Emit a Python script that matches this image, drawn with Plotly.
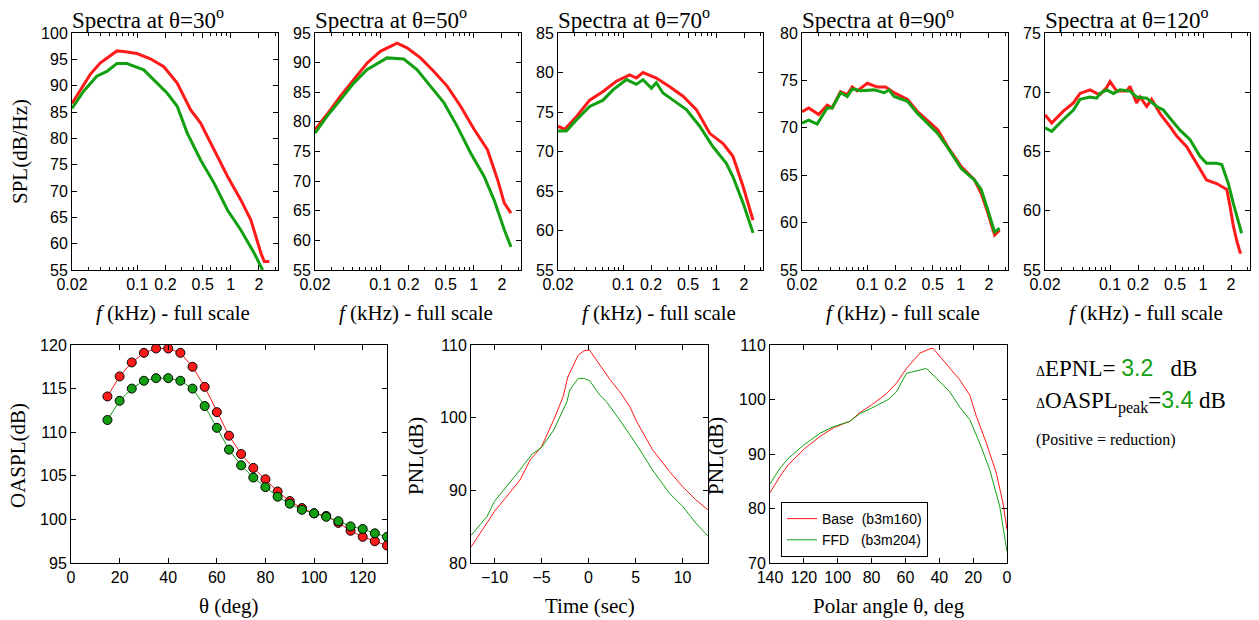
import plotly.graph_objects as go

W, H = 1259, 620
RED = "#ff1a1a"
GREEN = "#12a012"
SERIF = "Liberation Serif, Times New Roman, serif"
SANS = "Liberation Sans, Arial, sans-serif"

# ---------------- Spectra data (f in kHz, SPL in dB/Hz) ----------------
f30_base = [0.02, 0.0312, 0.040, 0.0604, 0.0713, 0.099, 0.138, 0.192, 0.267, 0.372, 0.475, 0.662, 0.921, 1.28, 1.64, 2.10, 2.28, 2.58]
s30_base = [86.6, 92.1, 94.3, 96.6, 96.5, 96.1, 95.1, 93.6, 90.5, 85.4, 82.9, 77.8, 72.8, 68.3, 64.5, 58.2, 56.6, 56.6]
f30_ffd = [0.02, 0.0265, 0.0368, 0.0472, 0.0604, 0.0774, 0.117, 0.150, 0.208, 0.267, 0.342, 0.475, 0.662, 0.921, 1.28, 1.78, 2.19]
s30_ffd = [85.7, 88.9, 91.8, 92.7, 94.2, 94.2, 93.0, 91.1, 88.6, 86.1, 81.0, 75.9, 71.5, 66.4, 62.6, 58.2, 55.0]

f50_base = [0.02, 0.0267, 0.0372, 0.0517, 0.0719, 0.100, 0.151, 0.193, 0.269, 0.374, 0.521, 0.725, 1.01, 1.40, 1.80, 2.12, 2.50]
s50_base = [78.7, 81.2, 84.3, 87.1, 89.9, 91.9, 93.3, 92.5, 90.8, 88.5, 86.0, 82.6, 78.7, 75.3, 70.2, 66.3, 64.6]
f50_ffd = [0.02, 0.0267, 0.0372, 0.0517, 0.0719, 0.100, 0.118, 0.178, 0.248, 0.345, 0.480, 0.667, 0.928, 1.29, 1.65, 2.12, 2.50]
s50_ffd = [78.1, 80.9, 83.7, 86.5, 88.8, 90.2, 90.8, 90.6, 88.8, 86.0, 83.2, 79.2, 74.7, 70.8, 66.8, 61.8, 58.9]

f70_base = [0.02, 0.0236, 0.0315, 0.0438, 0.0610, 0.0848, 0.118, 0.139, 0.164, 0.228, 0.318, 0.442, 0.615, 0.855, 1.19, 1.52, 1.95, 2.50]
s70_base = [73.2, 72.8, 74.4, 76.5, 77.6, 78.9, 79.7, 79.3, 80.0, 79.3, 78.2, 77.0, 75.3, 72.3, 71.0, 69.4, 65.6, 61.3]
f70_ffd = [0.02, 0.0246, 0.0315, 0.0438, 0.0610, 0.078, 0.109, 0.139, 0.164, 0.202, 0.228, 0.269, 0.345, 0.480, 0.667, 0.928, 1.29, 1.52, 1.95, 2.50]
s70_ffd = [72.6, 72.6, 74.0, 75.7, 76.5, 77.8, 79.1, 78.5, 79.1, 78.0, 78.7, 77.4, 76.5, 75.3, 73.2, 70.6, 68.5, 66.8, 63.5, 59.7]

f90_base = [0.02, 0.0236, 0.0302, 0.0372, 0.042, 0.0517, 0.061, 0.069, 0.078, 0.100, 0.128, 0.157, 0.193, 0.269, 0.345, 0.442, 0.566, 0.725, 1.01, 1.40, 1.65, 1.95, 2.30, 2.60]
s90_base = [71.7, 72.1, 71.4, 72.4, 72.1, 73.8, 73.5, 74.3, 73.9, 74.7, 74.3, 74.3, 73.7, 73.0, 71.7, 70.8, 69.8, 68.0, 65.9, 64.5, 63.1, 61.0, 58.7, 59.2]
f90_ffd = [0.02, 0.0236, 0.029, 0.0372, 0.042, 0.0517, 0.061, 0.069, 0.0848, 0.118, 0.151, 0.171, 0.193, 0.269, 0.345, 0.442, 0.566, 0.725, 1.01, 1.40, 1.65, 1.95, 2.30, 2.60]
s90_ffd = [70.5, 70.8, 70.4, 72.1, 72.1, 73.7, 73.3, 74.1, 73.9, 74.0, 73.7, 74.0, 73.3, 72.8, 71.5, 70.5, 69.4, 67.9, 65.7, 64.5, 63.5, 61.3, 59.0, 59.4]

f120_base = [0.02, 0.0236, 0.0315, 0.0404, 0.0476, 0.061, 0.0719, 0.078, 0.092, 0.100, 0.118, 0.151, 0.164, 0.193, 0.210, 0.248, 0.280, 0.345, 0.442, 0.521, 0.667, 0.855, 1.09, 1.40, 1.80, 1.95, 2.12, 2.30, 2.50, 2.60]
s120_base = [68.1, 67.4, 68.4, 69.1, 69.9, 70.2, 69.9, 69.8, 70.4, 70.9, 70.1, 70.1, 70.5, 69.1, 69.6, 68.8, 69.4, 68.2, 67.1, 66.3, 65.4, 64.0, 62.6, 62.3, 61.8, 60.4, 58.7, 57.5, 56.5, 56.5]
f120_ffd = [0.02, 0.0236, 0.0315, 0.0404, 0.0476, 0.061, 0.0719, 0.078, 0.092, 0.109, 0.128, 0.164, 0.193, 0.248, 0.318, 0.374, 0.442, 0.566, 0.725, 0.928, 1.09, 1.40, 1.59, 1.87, 2.12, 2.40, 2.60]
s120_ffd = [67.0, 66.7, 67.7, 68.5, 69.4, 69.6, 69.5, 69.9, 70.2, 69.9, 70.2, 70.1, 69.6, 69.5, 68.8, 68.5, 67.8, 66.8, 66.0, 64.6, 64.0, 64.0, 63.9, 62.3, 60.6, 59.2, 58.1]

spectra = [
    ("30", f30_base, s30_base, f30_ffd, s30_ffd, [55, 100]),
    ("50", f50_base, s50_base, f50_ffd, s50_ffd, [55, 95]),
    ("70", f70_base, s70_base, f70_ffd, s70_ffd, [55, 85]),
    ("90", f90_base, s90_base, f90_ffd, s90_ffd, [55, 80]),
    ("120", f120_base, s120_base, f120_ffd, s120_ffd, [55, 75]),
]
freq_ticks = [0.02, 0.1, 0.2, 0.5, 1, 2]
freq_ticktext = ["0.02", "0.1", "0.2", "0.5", "1", "2"]

# ---------------- OASPL directivity ----------------
theta_deg = [15, 20, 25, 30, 35, 40, 45, 50, 55, 60, 65, 70, 75, 80, 85, 90, 95, 100, 105, 110, 115, 120, 125, 130]
oaspl_base = [114.1, 116.4, 118.0, 119.1, 119.6, 119.6, 119.1, 117.5, 115.2, 112.3, 109.6, 107.5, 105.9, 104.6, 103.2, 102.1, 101.3, 100.7, 100.4, 99.6, 98.7, 98.0, 97.5, 97.0]
oaspl_ffd = [111.4, 113.6, 115.0, 115.9, 116.2, 116.2, 115.9, 115.0, 113.0, 110.5, 108.0, 106.2, 104.8, 103.7, 102.6, 101.8, 101.1, 100.7, 100.3, 99.8, 99.2, 98.9, 98.4, 98.0]

# ---------------- PNL vs time ----------------
t_base = [-12.5, -10, -7.3, -6.2, -5, -3.7, -2.7, -2.2, -1.1, -0.5, 0.1, 1.2, 2.3, 3.3, 4.4, 5.1, 6.8, 8.6, 10, 11.4, 12.7]
pnl_t_base = [82.2, 87.1, 91.4, 94.2, 96.0, 99.7, 102.9, 105.6, 108.6, 109.2, 109.3, 107.3, 105.2, 103.6, 101.5, 99.5, 95.6, 92.6, 90.5, 88.7, 87.3]
t_ffd = [-12.5, -10.8, -10, -8.7, -7.3, -6, -5, -3.7, -3, -2.3, -2, -1.1, -0.5, 0.1, 1.2, 1.9, 3.3, 5.1, 6.8, 8.6, 10, 11.4, 12.7]
pnl_t_ffd = [83.8, 86.4, 88.5, 90.5, 92.8, 95.0, 95.9, 98.3, 100.2, 102.2, 103.8, 105.4, 105.4, 105.1, 103.1, 102.2, 99.7, 96.3, 92.8, 89.6, 87.8, 85.5, 83.7]

# ---------------- PNL vs polar angle ----------------
ang_base = [140, 134.1, 129.2, 120.3, 110.5, 102.6, 92.8, 86.9, 80, 71.2, 65.3, 59.4, 51.5, 45.6, 43.7, 35.8, 27.9, 22, 18.1, 12.2, 6.3, 2.4, 0]
pnl_a_base = [82.9, 85.9, 88.0, 90.8, 93.2, 94.8, 96.0, 97.6, 99.0, 101.1, 103.0, 105.7, 108.5, 109.3, 109.4, 106.6, 103.6, 100.8, 96.9, 92.0, 86.5, 81.0, 76.1]
ang_ffd = [140, 134.1, 129.2, 120.3, 110.5, 102.6, 92.8, 86.9, 80, 70.2, 65.3, 59.4, 55.5, 47.6, 41.7, 33.8, 27.9, 22, 16.1, 10.2, 4.3, 0]
pnl_a_ffd = [84.5, 87.4, 89.2, 91.6, 93.8, 95.0, 96.0, 97.4, 98.4, 100.0, 101.4, 104.8, 105.1, 105.7, 103.9, 101.4, 98.6, 96.3, 92.0, 87.1, 80.4, 72.1]

legend_names = ["Base\u00a0\u00a0(b3m160)", "FFD\u00a0\u00a0\u00a0(b3m204)"]

# ---------------- Layout geometry (pixels) ----------------
top_x = [(72, 278), (315, 521), (558, 763), (802, 1008), (1045, 1250)]
top_y = (33, 270)
bot_x = [(71, 387), (471, 708), (770, 1007)]
bot_y = (345, 563)


def px(x):
    return x / W


def py(y):
    return 1 - y / H


fig = go.Figure()
layout = dict(
    width=W, height=H, margin=dict(l=0, r=0, t=0, b=0),
    paper_bgcolor="white", plot_bgcolor="white",
    showlegend=True,
    legend=dict(x=px(781), y=py(502), xanchor="left", yanchor="top",
                bordercolor="black", borderwidth=1, bgcolor="white",
                font=dict(family=SANS, size=14, color="black"),
                tracegroupgap=0, itemwidth=30),
    annotations=[],
)

axis_common = dict(showline=True, linecolor="black", linewidth=1, mirror="allticks",
                   ticks="inside", ticklen=5, tickcolor="black", showgrid=False,
                   zeroline=False, automargin=False,
                   tickfont=dict(family=SANS, size=16, color="black"))

ann = layout["annotations"]

# top row spectra
for i, (ang, fb, sb, ff, sf, yr) in enumerate(spectra):
    n = i + 1
    xa = "x" if n == 1 else f"x{n}"
    ya = "y" if n == 1 else f"y{n}"
    fig.add_trace(go.Scatter(x=fb, y=sb, mode="lines", line=dict(color=RED, width=3),
                             xaxis=xa, yaxis=ya, showlegend=False))
    fig.add_trace(go.Scatter(x=ff, y=sf, mode="lines", line=dict(color=GREEN, width=3),
                             xaxis=xa, yaxis=ya, showlegend=False))
    x0, x1 = top_x[i]
    layout[f"xaxis{n if n > 1 else ''}"] = dict(
        axis_common, type="log", domain=[px(x0), px(x1)], anchor=ya,
        range=[-1.699, 0.505], tickmode="array", tickvals=freq_ticks, ticktext=freq_ticktext,
        minor=dict(ticks="inside", ticklen=3, tickcolor="black", showgrid=False, dtick="D1"))
    layout[f"yaxis{n if n > 1 else ''}"] = dict(
        axis_common, domain=[py(top_y[1]), py(top_y[0])], anchor=xa,
        range=yr, dtick=5, tick0=55)
    ann.append(dict(text=f"Spectra at θ={ang}<sup>o</sup>", xref="paper", yref="paper",
                    x=px(x0 - 2), y=py(19), xanchor="left", yanchor="middle", showarrow=False,
                    font=dict(family=SERIF, size=23, color="black")))
    ann.append(dict(text="<i>f</i> (kHz) - full scale", xref="paper", yref="paper",
                    x=px((x0 + x1) / 2 - 2), y=py(313), xanchor="center", yanchor="middle",
                    showarrow=False, font=dict(family=SERIF, size=21, color="black")))

ann.append(dict(text="SPL(dB/Hz)", xref="paper", yref="paper", x=px(20), y=py(152),
                textangle=-90, xanchor="center", yanchor="middle", showarrow=False,
                font=dict(family=SERIF, size=21, color="black")))

# bottom: OASPL
fig.add_trace(go.Scatter(x=theta_deg, y=oaspl_base, mode="lines+markers",
                         line=dict(color=RED, width=1),
                         marker=dict(color=RED, size=9, line=dict(color="black", width=1)),
                         xaxis="x6", yaxis="y6", showlegend=False))
fig.add_trace(go.Scatter(x=theta_deg, y=oaspl_ffd, mode="lines+markers",
                         line=dict(color=GREEN, width=1),
                         marker=dict(color=GREEN, size=9, line=dict(color="black", width=1)),
                         xaxis="x6", yaxis="y6", showlegend=False))
layout["xaxis6"] = dict(axis_common, domain=[px(bot_x[0][0]), px(bot_x[0][1])], anchor="y6",
                        range=[0, 130], tickvals=[0, 20, 40, 60, 80, 100, 120])
layout["yaxis6"] = dict(axis_common, domain=[py(bot_y[1]), py(bot_y[0])], anchor="x6",
                        range=[95, 120], dtick=5)

# bottom: PNL vs time
fig.add_trace(go.Scatter(x=t_base, y=pnl_t_base, mode="lines", line=dict(color=RED, width=1),
                         xaxis="x7", yaxis="y7", showlegend=False))
fig.add_trace(go.Scatter(x=t_ffd, y=pnl_t_ffd, mode="lines", line=dict(color=GREEN, width=1),
                         xaxis="x7", yaxis="y7", showlegend=False))
layout["xaxis7"] = dict(axis_common, domain=[px(bot_x[1][0]), px(bot_x[1][1])], anchor="y7",
                        range=[-12.5, 12.7], tickvals=[-10, -5, 0, 5, 10])
layout["yaxis7"] = dict(axis_common, domain=[py(bot_y[1]), py(bot_y[0])], anchor="x7",
                        range=[80, 110], dtick=10)

# bottom: PNL vs polar angle
fig.add_trace(go.Scatter(x=ang_base, y=pnl_a_base, mode="lines", line=dict(color=RED, width=1),
                         xaxis="x8", yaxis="y8", name=legend_names[0], showlegend=True))
fig.add_trace(go.Scatter(x=ang_ffd, y=pnl_a_ffd, mode="lines", line=dict(color=GREEN, width=1),
                         xaxis="x8", yaxis="y8", name=legend_names[1], showlegend=True))
layout["xaxis8"] = dict(axis_common, domain=[px(bot_x[2][0]), px(bot_x[2][1])], anchor="y8",
                        range=[140, 0], tickvals=[140, 120, 100, 80, 60, 40, 20, 0])
layout["yaxis8"] = dict(axis_common, domain=[py(bot_y[1]), py(bot_y[0])], anchor="x8",
                        range=[70, 110], dtick=10)

bottom_titles = [
    ("OASPL(dB)", 18, "θ (deg)", (bot_x[0][0] + bot_x[0][1]) / 2),
    ("PNL(dB)", 416, "Time (sec)", (bot_x[1][0] + bot_x[1][1]) / 2),
    ("PNL(dB)", 716, "Polar angle θ, deg", (bot_x[2][0] + bot_x[2][1]) / 2),
]
for ytxt, yx, xtxt, xx in bottom_titles:
    ann.append(dict(text=ytxt, xref="paper", yref="paper", x=px(yx), y=py(456),
                    textangle=-90, xanchor="center", yanchor="middle", showarrow=False,
                    font=dict(family=SERIF, size=21, color="black")))
    ann.append(dict(text=xtxt, xref="paper", yref="paper", x=px(xx), y=py(606),
                    xanchor="center", yanchor="middle", showarrow=False,
                    font=dict(family=SERIF, size=21, color="black")))

# Text block
green_span = "<span style='font-family:Liberation Sans, Arial;font-size:23px;color:" + GREEN + "'>{}</span>"
delta = "<span style='font-size:14px'>Δ</span>"
ann.append(dict(text=delta + "EPNL=\u00a0" + green_span.format("3.2") + "\u00a0\u00a0\u00a0dB",
                xref="paper", yref="paper", x=px(1034), y=py(368), xanchor="left", yanchor="middle",
                showarrow=False, font=dict(family=SERIF, size=23, color="black")))
ann.append(dict(text=delta + "OASPL<sub>peak</sub>=" + green_span.format("3.4") + "\u00a0dB",
                xref="paper", yref="paper", x=px(1034), y=py(402), xanchor="left", yanchor="middle",
                showarrow=False, font=dict(family=SERIF, size=23, color="black")))
ann.append(dict(text="(Positive = reduction)", xref="paper", yref="paper", x=px(1034), y=py(440),
                xanchor="left", yanchor="middle", showarrow=False,
                font=dict(family=SERIF, size=16, color="black")))

fig.update_layout(**layout)
fig.write_html("out.html")
